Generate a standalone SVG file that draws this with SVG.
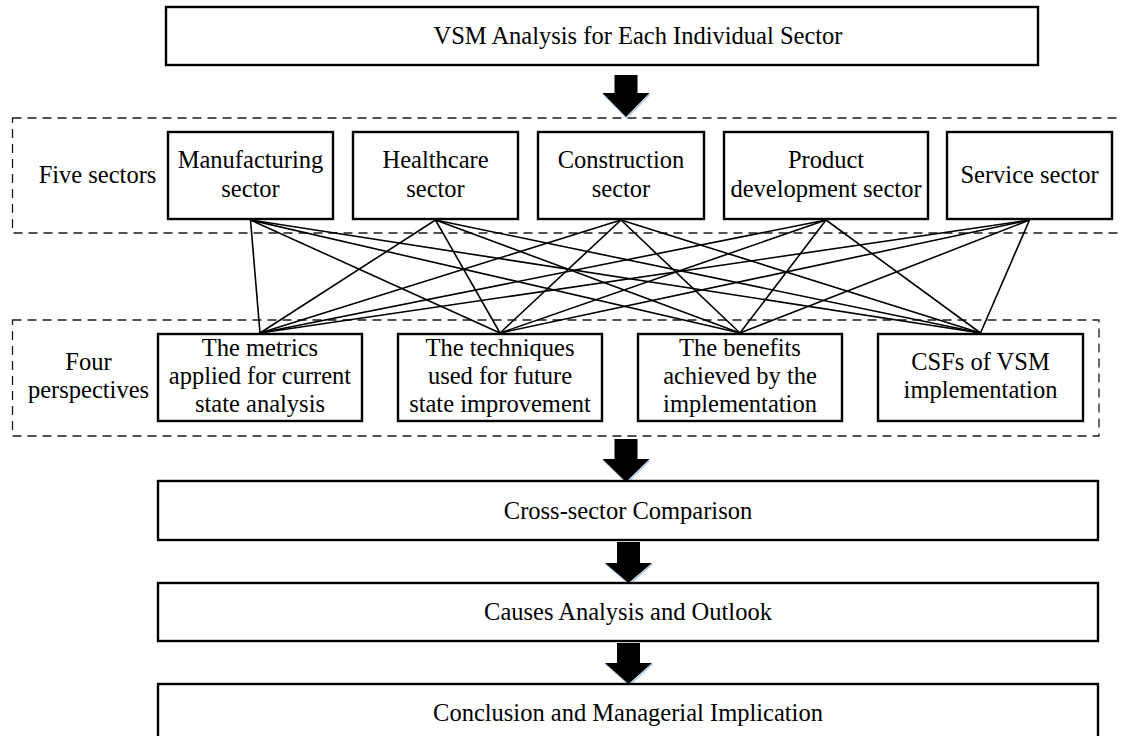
<svg xmlns="http://www.w3.org/2000/svg" width="1121" height="736" viewBox="0 0 1121 736">
  <style>
    .box { fill: #ffffff; stroke: #000000; stroke-width: 2.4; }
    .group { fill: none; stroke: #1a1a1a; stroke-width: 1.3; stroke-dasharray: 9 6; }
    .link { stroke: #000000; stroke-width: 1.6; fill: none; }
    .arrow { fill: #000000; }
    .glow { fill: none; stroke: #a9c7e6; stroke-width: 1.4; }
    text { font-family: "Liberation Serif", "Times New Roman", serif; font-size: 24.5px; fill: #000000; text-anchor: middle; }
  </style>

  <!-- dashed grouping frames -->
  <g id="group-sectors">
    <rect class="group" x="12.5" y="118" width="1125" height="115"/>
    <text x="97.5" y="183">Five sectors</text>
  </g>
  <g id="group-perspectives">
    <rect class="group" x="12.5" y="320" width="1086.5" height="116"/>
    <text x="88.5" y="370">Four</text>
    <text x="88.5" y="398">perspectives</text>
  </g>

  <!-- sector-to-perspective links -->
  <g id="connectors">
    <line class="link" x1="250.5" y1="220" x2="260" y2="333"/>
    <line class="link" x1="250.5" y1="220" x2="500" y2="333"/>
    <line class="link" x1="250.5" y1="220" x2="740" y2="333"/>
    <line class="link" x1="250.5" y1="220" x2="980.5" y2="333"/>
    <line class="link" x1="435.5" y1="220" x2="260" y2="333"/>
    <line class="link" x1="435.5" y1="220" x2="500" y2="333"/>
    <line class="link" x1="435.5" y1="220" x2="740" y2="333"/>
    <line class="link" x1="435.5" y1="220" x2="980.5" y2="333"/>
    <line class="link" x1="621" y1="220" x2="260" y2="333"/>
    <line class="link" x1="621" y1="220" x2="500" y2="333"/>
    <line class="link" x1="621" y1="220" x2="740" y2="333"/>
    <line class="link" x1="621" y1="220" x2="980.5" y2="333"/>
    <line class="link" x1="826" y1="220" x2="260" y2="333"/>
    <line class="link" x1="826" y1="220" x2="500" y2="333"/>
    <line class="link" x1="826" y1="220" x2="740" y2="333"/>
    <line class="link" x1="826" y1="220" x2="980.5" y2="333"/>
    <line class="link" x1="1029.5" y1="220" x2="260" y2="333"/>
    <line class="link" x1="1029.5" y1="220" x2="500" y2="333"/>
    <line class="link" x1="1029.5" y1="220" x2="740" y2="333"/>
    <line class="link" x1="1029.5" y1="220" x2="980.5" y2="333"/>

    <!-- block arrows between stages -->
    <polyline class="glow" points="603,94 627,118 650,94"/>
    <polygon class="arrow" points="614.5,75 637.5,75 637.5,93 649.5,93 626,117 602.5,93 614.5,93"/>
    <polyline class="glow" points="603,460 627,483 650,460"/>
    <polygon class="arrow" points="614.5,439 637.5,439 637.5,459 649.5,459 626,482 602.5,459 614.5,459"/>
    <polyline class="glow" points="605.5,564 629.5,584 652.5,564"/>
    <polygon class="arrow" points="617,542 640,542 640,563 652,563 628.5,583 605,563 617,563"/>
    <polyline class="glow" points="605.5,664 629.5,685 652.5,664"/>
    <polygon class="arrow" points="617,643 640,643 640,663 652,663 628.5,684 605,663 617,663"/>
  </g>

  <!-- stage boxes -->
  <g id="vsm-analysis">
    <rect class="box" x="166" y="7" width="872" height="58"/>
    <text x="638" y="44">VSM Analysis for Each Individual Sector</text>
  </g>

  <g id="manufacturing">
    <rect class="box" x="168" y="132" width="165" height="87"/>
    <text x="250.5" y="168">Manufacturing</text>
    <text x="250.5" y="197">sector</text>
  </g>
  <g id="healthcare">
    <rect class="box" x="353" y="132" width="165" height="87"/>
    <text x="435.5" y="168">Healthcare</text>
    <text x="435.5" y="197">sector</text>
  </g>
  <g id="construction">
    <rect class="box" x="538" y="132" width="166" height="87"/>
    <text x="621" y="168">Construction</text>
    <text x="621" y="197">sector</text>
  </g>
  <g id="product-development">
    <rect class="box" x="724" y="132" width="204" height="87"/>
    <text x="826" y="168">Product</text>
    <text x="826" y="197">development sector</text>
  </g>
  <g id="service">
    <rect class="box" x="947" y="132" width="165" height="87"/>
    <text x="1029.5" y="183">Service sector</text>
  </g>

  <g id="metrics">
    <rect class="box" x="158" y="334" width="204" height="87"/>
    <text x="260" y="356">The metrics</text>
    <text x="260" y="384">applied for current</text>
    <text x="260" y="412">state analysis</text>
  </g>
  <g id="techniques">
    <rect class="box" x="398" y="334" width="204" height="87"/>
    <text x="500" y="356">The techniques</text>
    <text x="500" y="384">used for future</text>
    <text x="500" y="412">state improvement</text>
  </g>
  <g id="benefits">
    <rect class="box" x="638" y="334" width="204" height="87"/>
    <text x="740" y="356">The benefits</text>
    <text x="740" y="384">achieved by the</text>
    <text x="740" y="412">implementation</text>
  </g>
  <g id="csfs">
    <rect class="box" x="878" y="334" width="205" height="87"/>
    <text x="980.5" y="370">CSFs of VSM</text>
    <text x="980.5" y="398">implementation</text>
  </g>

  <g id="cross-sector">
    <rect class="box" x="158" y="481" width="940" height="59"/>
    <text x="628" y="519">Cross-sector Comparison</text>
  </g>
  <g id="causes">
    <rect class="box" x="158" y="583" width="940" height="58"/>
    <text x="628" y="620">Causes Analysis and Outlook</text>
  </g>
  <g id="conclusion">
    <rect class="box" x="158" y="684" width="940" height="60"/>
    <text x="628" y="721">Conclusion and Managerial Implication</text>
  </g>
</svg>
